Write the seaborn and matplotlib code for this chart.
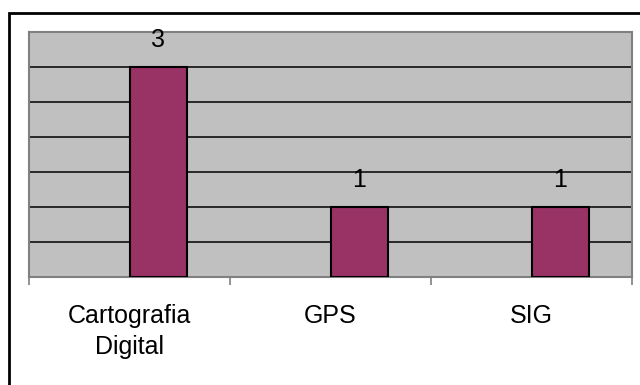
import matplotlib
matplotlib.use("Agg")
import matplotlib.pyplot as plt
import seaborn as sns
import pandas as pd
import numpy as np
from matplotlib.patches import Rectangle

categories = ["Cartografia\nDigital", "GPS", "SIG"]
series_names = ["Série 1", "Série 2"]
values_s1 = [np.nan, np.nan, np.nan]
values_s2 = [3, 1, 1]

df = pd.DataFrame({
    "categoria": categories * 2,
    "serie": [series_names[0]] * 3 + [series_names[1]] * 3,
    "valor": values_s1 + values_s2,
})

sns.set_theme(style="white")
plt.rcParams["font.family"] = ["Liberation Sans", "DejaVu Sans"]

fig = plt.figure(figsize=(6.4, 3.85), dpi=100)
fig.patch.set_facecolor("white")
ax = fig.add_axes([29/640, 1 - 277/385, (632 - 29)/640, (277 - 32)/385])
ax.set_facecolor("#C0C0C0")

sns.barplot(data=df, x="categoria", y="valor", hue="serie",
            hue_order=series_names, order=categories,
            palette=["#9999FF", "#993366"], saturation=1, width=0.57, gap=0,
            errorbar=None, edgecolor="black", linewidth=1.5,
            legend=False, ax=ax, zorder=3)

ax.set_ylim(0, 3.5)
ax.set_xlim(-0.5, 2.5)
ax.set_yticks(np.arange(0, 3.51, 0.5))
ax.yaxis.grid(True, color="black", linewidth=1.1, zorder=0)
ax.set_axisbelow(True)
ax.tick_params(axis="y", left=False, labelleft=False)
ax.set_xlabel("")
ax.set_ylabel("")

# category boundary ticks
ax.set_xticks([-0.5, 0.5, 1.5, 2.5], minor=True)
ax.tick_params(axis="x", which="minor", bottom=True, length=6, width=1.2,
               color="#808080", direction="out")
ax.tick_params(axis="x", which="major", length=0, pad=19.5, labelsize=18,
               labelcolor="black")
for lab in ax.get_xticklabels():
    lab.set_linespacing(1.36)

for sp in ax.spines.values():
    sp.set_visible(True)
    sp.set_color("#808080")
    sp.set_linewidth(1.5)

# value labels
for cont in ax.containers:
    for rect in cont:
        h = rect.get_height()
        if h is None or np.isnan(h) or h == 0:
            continue
        ax.annotate(f"{int(h)}", (rect.get_x() + rect.get_width() / 2, h),
                    xytext=(0, 14.4), textcoords="offset points",
                    ha="center", va="baseline", fontsize=18, color="black")

# outer chart border
fig.patches.append(Rectangle((9/640, -0.2), 1.2, 1 - 13/385 + 0.2,
                             transform=fig.transFigure, fill=False,
                             edgecolor="black", linewidth=2, zorder=10))

fig.savefig("out.png", dpi=100, facecolor="white")
